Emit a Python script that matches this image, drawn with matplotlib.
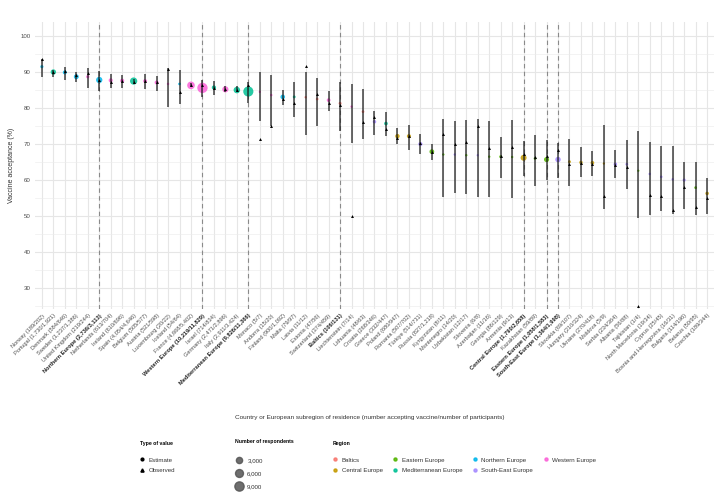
import numpy as np
import matplotlib
matplotlib.use("Agg")
import matplotlib.pyplot as plt
from matplotlib.lines import Line2D

plt.rcParams['font.family'] = ['Liberation Sans', 'DejaVu Sans']

labels = [
    "Norway (189/202)", "Portugal (1,730/1,921)", "Denmark (584/646)", "Sweden (1,237/1,386)",
    "United Kingdom (219/244)", "Northern Europe (2,736/3,113)", "Netherlands (613/704)",
    "Ireland (610/696)", "Spain (4,054/4,646)", "Belgium (505/577)", "Austria (521/598)",
    "Luxembourg (20/22)", "Iceland (54/64)", "France (4,668/5,402)",
    "Western Europe (10,219/11,829)", "Israel (714/834)", "Germany (2,471/2,896)",
    "Italy (2,911/3,424)", "Mediterranean Europe (9,826/11,366)", "Monaco (5/7)",
    "Andorra (15/20)", "Finland (900/1,092)", "Malta (79/97)", "Latvia (11/12)",
    "Estonia (47/56)", "Switzerland (374/459)", "Baltics (106/131)", "Liechtenstein (7/14)",
    "Lithuania (48/63)", "Croatia (268/346)", "Greece (332/447)", "Poland (680/947)",
    "Romania (507/702)", "Türkiye (514/731)", "Russia (827/1,218)", "Kyrgyzstan (8/11)",
    "Montenegro (14/20)", "Uzbekistan (12/17)", "Slovenia (6/8)", "Azerbaijan (11/16)",
    "Georgia (86/129)", "Armenia (9/13)", "Central Europe (1,790/2,658)", "Kazakhstan (59/89)",
    "Eastern Europe (1,058/1,583)", "South-East Europe (1,364/1,998)", "Slovakia (69/107)",
    "Hungary (210/324)", "Ukraine (270/418)", "Moldova (5/9)", "Serbia (234/364)",
    "Albania (56/88)", "Tajikistan (1/4)", "North Macedonia (19/34)", "Cyprus (25/45)",
    "Bosnia and Herzegovina (16/31)", "Bulgaria (114/196)", "Belarus (50/95)",
    "Czechia (189/344)",
]

is_subregion = [
    False, False, False, False, False, True, False, False, False, False, False, False, False, False,
    True, False, False, False, True, False, False, False, False, False, False, False, True, False,
    False, False, False, False, False, False, False, False, False, False, False, False, False, False,
    True, False, True, True, False, False, False, False, False, False, False, False, False, False,
    False, False, False,
]

region = [
    "Northern Europe", "Mediterranean Europe", "Northern Europe", "Northern Europe",
    "Western Europe", "Northern Europe", "Western Europe", "Western Europe",
    "Mediterranean Europe", "Western Europe", "Western Europe", "Western Europe",
    "Northern Europe", "Western Europe", "Western Europe", "Mediterranean Europe",
    "Western Europe", "Mediterranean Europe", "Mediterranean Europe", "Western Europe",
    "Western Europe", "Northern Europe", "Mediterranean Europe", "Baltics", "Baltics",
    "Western Europe", "Baltics", "Western Europe", "Baltics", "South-East Europe",
    "Mediterranean Europe", "Central Europe", "Central Europe", "South-East Europe",
    "Eastern Europe", "Eastern Europe", "South-East Europe", "Eastern Europe",
    "South-East Europe", "Eastern Europe", "Eastern Europe", "Eastern Europe",
    "Central Europe", "Eastern Europe", "Eastern Europe", "South-East Europe",
    "Central Europe", "Central Europe", "Central Europe", "Central Europe",
    "South-East Europe", "South-East Europe", "Eastern Europe", "South-East Europe",
    "South-East Europe", "South-East Europe", "South-East Europe", "Eastern Europe",
    "Central Europe",
]

participants = [
    202, 1921, 646, 1386, 244, 3113, 704, 696, 4646, 577, 598, 22, 64, 5402, 11829, 834,
    2896, 3424, 11366, 7, 20, 1092, 97, 12, 56, 459, 131, 14, 63, 346, 447, 947, 702, 731,
    1218, 11, 20, 17, 8, 16, 129, 13, 2658, 89, 1583, 1998, 107, 324, 418, 9, 364, 88, 4,
    34, 45, 31, 196, 95, 344,
]

estimate = [
    91.5, 90.0, 89.9, 88.7, 88.7, 87.8, 87.7, 87.6, 87.5, 87.5, 87.1, 86.7, 86.7, 86.3,
    85.6, 85.7, 85.2, 85.0, 84.6, 84.5, 83.6, 83.1, 83.1, 83.0, 82.5, 82.2, 81.3, 80.4,
    79.0, 76.2, 75.7, 72.2, 72.2, 70.0, 67.9, 67.1, 67.1, 66.9, 66.9, 66.5, 66.5, 66.4,
    66.2, 66.0, 65.7, 65.7, 65.1, 64.9, 64.8, 64.6, 64.4, 64.4, 62.6, 61.7, 60.9, 60.2,
    60.0, 57.9, 56.3,
]

lower = [
    88.5, 88.7, 87.8, 87.3, 85.5, 84.8, 85.5, 85.7, 86.8, 85.2, 84.8, 80.4, 81.1, 85.8,
    83.1, 83.6, 84.4, 84.4, 81.5, 76.5, 75.0, 80.8, 77.6, 72.5, 75.0, 79.3, 73.7, 70.2,
    71.3, 72.5, 72.3, 69.9, 68.3, 67.2, 65.7, 55.4, 56.5, 56.0, 55.4, 55.4, 60.5, 54.9,
    61.1, 58.4, 60.0, 60.7, 58.4, 60.9, 61.1, 52.0, 60.6, 57.5, 49.4, 50.3, 51.5, 50.5,
    52.0, 50.3, 50.5,
]

upper = [
    93.7, 90.7, 91.5, 90.1, 91.2, 90.4, 89.4, 89.2, 88.2, 89.4, 88.9, 91.2, 90.7, 86.9,
    87.8, 87.5, 86.0, 86.0, 87.2, 89.9, 89.2, 85.0, 87.3, 90.1, 88.4, 84.7, 87.1, 86.7,
    85.2, 79.3, 78.8, 74.4, 75.3, 72.7, 69.9, 77.1, 76.4, 76.7, 77.1, 76.4, 72.0, 76.7,
    70.8, 72.5, 71.1, 70.4, 71.4, 69.1, 68.1, 75.3, 68.3, 71.1, 73.7, 70.5, 69.4, 69.4,
    65.1, 64.9, 60.6,
]

observed = [
    93.6, 90.1, 90.4, 89.2, 89.8, 87.9, 87.1, 87.6, 87.3, 87.5, 87.1, 90.9, 84.4, 86.4,
    86.4, 85.6, 85.3, 85.0, 86.5, 71.4, 75.0, 82.4, 81.4, 91.7, 83.9, 81.5, 80.9, 50.0,
    76.2, 77.5, 74.3, 71.8, 72.2, 70.3, 67.9, 72.7, 70.0, 70.6, 75.0, 68.8, 66.7, 69.2,
    67.3, 66.3, 66.8, 68.3, 64.5, 64.8, 64.6, 55.6, 64.3, 63.6, 25.0, 55.9, 55.6, 51.6,
    58.2, 52.6, 54.9,
]

region_names = ["Baltics", "Central Europe", "Eastern Europe", "Mediterranean Europe",
                "Northern Europe", "South-East Europe", "Western Europe"]
region_colors = ["#F8766D", "#C49A00", "#53B400", "#00C094", "#00B6EB", "#A58AFF", "#FB61D7"]
cmap = dict(zip(region_names, region_colors))

size_breaks = [3000, 6000, 9000]
nmax = max(participants)


def diam_pt(n):
    return (2.1 + 8.2 * np.sqrt(n / nmax)) * 0.72


fig = plt.figure(figsize=(7.25, 4.95), dpi=100)
ax = fig.add_axes([35 / 725, 1 - 309 / 495, (714 - 35) / 725, (309 - 22) / 495])

x = np.arange(len(labels))

for i in x:
    if is_subregion[i]:
        ax.axvline(i, color="#8a8a8a", ls=(0, (4, 3)), lw=0.8, zorder=1)

dcol = [cmap[r] for r in region]
ax.scatter(x, estimate, s=[diam_pt(n) ** 2 for n in participants], c=dcol,
           alpha=0.85, linewidths=0, zorder=2)
ax.vlines(x, lower, upper, color="#1a1a1a", lw=1.15, alpha=0.8, zorder=3)
ax.scatter(x, observed, marker="^", s=4.5, color="black", linewidths=0, zorder=4)

ax.set_xlim(-0.6, len(labels) - 0.4)
ax.set_ylim(24.2, 103.9)
ax.set_yticks(np.arange(30, 101, 10))
ax.set_yticks(np.arange(25, 101, 10), minor=True)
ax.set_xticks(x)
ax.set_xticklabels(labels, rotation=45, ha="right", va="top", rotation_mode="anchor",
                   fontsize=4.1, color="#4d4d4d")
for t, b in zip(ax.get_xticklabels(), is_subregion):
    if b:
        t.set_fontweight("bold")
        t.set_color("#222222")
ax.tick_params(axis="y", labelsize=4.4, labelcolor="#4d4d4d", length=0, pad=3)
ax.tick_params(axis="x", length=0, pad=3)
ax.tick_params(which="minor", length=0)
ax.grid(True, which="major", color="#e6e6e6", lw=0.8)
ax.grid(True, which="minor", axis="y", color="#ececec", lw=0.45)
ax.set_axisbelow(True)
for sp in ax.spines.values():
    sp.set_visible(False)

ax.set_ylabel("Vaccine acceptance (%)", fontsize=5, color="#333333", labelpad=4)
fig.text(370 / 725, 1 - 418 / 495,
         "Country or European subregion of residence (number accepting vaccine/number of participants)",
         ha="center", va="center", fontsize=4.6, color="#333333")

title_fp = {"weight": "bold", "size": 3.7}
leg_top = 1 - 441 / 495

h1 = [Line2D([], [], marker="o", ls="", color="black", ms=2.0),
      Line2D([], [], marker="^", ls="", color="black", ms=2.3)]
leg1 = fig.legend(h1, ["Estimate", "Observed"], title="Type of value\n",
                  loc="upper left", bbox_to_anchor=(140 / 725, leg_top),
                  frameon=False, fontsize=4.4, title_fontproperties=title_fp,
                  alignment="left", borderpad=0, borderaxespad=0, handlelength=0.8,
                  handletextpad=0.6, labelspacing=0.9)
for t in leg1.get_texts():
    t.set_color("#333333")

h2 = [Line2D([], [], marker="o", ls="", color="#555555", ms=diam_pt(n), alpha=0.85)
      for n in size_breaks]
leg2 = fig.legend(h2, [f"{n:,}" for n in size_breaks], title="Number of respondents\n",
                  loc="upper left", bbox_to_anchor=(235 / 725, leg_top + 0.004),
                  frameon=False, fontsize=4.4, title_fontproperties=title_fp,
                  alignment="left", borderpad=0, borderaxespad=0, handlelength=1.2,
                  handletextpad=0.8, labelspacing=1.3)
for t in leg2.get_texts():
    t.set_color("#333333")

h3 = [Line2D([], [], marker="o", ls="", color=c, ms=2.2, alpha=0.85) for c in region_colors]
leg3 = fig.legend(h3, region_names, title="Region\n", ncol=4,
                  loc="upper left", bbox_to_anchor=(333 / 725, leg_top),
                  frameon=False, fontsize=4.4, title_fontproperties=title_fp,
                  alignment="left", borderpad=0, borderaxespad=0, handlelength=0.8,
                  handletextpad=0.6, labelspacing=0.9, columnspacing=1.7)
for t in leg3.get_texts():
    t.set_color("#333333")

fig.savefig("out.png", dpi=100, facecolor="white")
